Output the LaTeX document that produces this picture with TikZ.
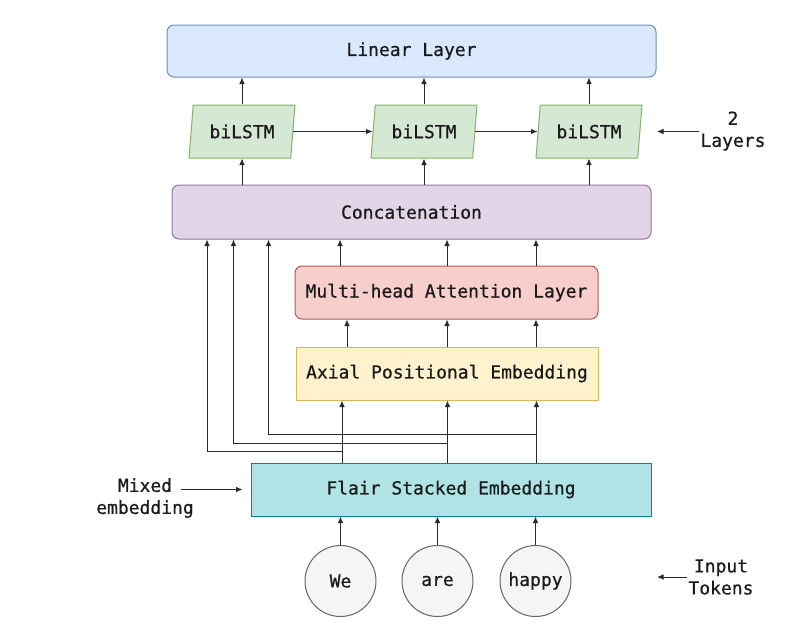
\documentclass[tikz,border=0pt]{standalone}
\usepackage{fontspec}
\newfontfamily\dmono[BoldFont=DejaVu Sans Mono, BoldFeatures={FakeBold=0.6}]{DejaVu Sans Mono}
\usetikzlibrary{shapes.geometric,arrows.meta}
\definecolor{blf}{HTML}{DAE8FC}\definecolor{bld}{HTML}{6C8EBF}
\definecolor{grf}{HTML}{D5E8D4}\definecolor{grd}{HTML}{82B366}
\definecolor{puf}{HTML}{E1D5E7}\definecolor{pud}{HTML}{9673A6}
\definecolor{ref}{HTML}{F8CECC}\definecolor{red}{HTML}{B85450}
\definecolor{yef}{HTML}{FFF2CC}\definecolor{yed}{HTML}{D6B656}
\definecolor{cyf}{HTML}{B0E3E6}\definecolor{cyd}{HTML}{0E8088}
\definecolor{cif}{HTML}{F5F5F5}\definecolor{cid}{HTML}{666666}
\definecolor{txt}{HTML}{1A1A1A}
\definecolor{ln}{HTML}{2A2A2A}
\begin{document}
\begin{tikzpicture}[x=1pt,y=-1pt,
  every node/.style={font=\fontsize{18}{22}\selectfont\dmono\bfseries, text=txt},
  box/.style={draw, line width=1pt, inner sep=0pt},
  lstm/.style={draw=grd, fill=grf, line width=1pt, trapezium, trapezium left angle=73, trapezium right angle=107, trapezium stretches body=true, minimum width=106pt, minimum height=53pt, inner sep=0pt},
  tok/.style={circle, draw=cid, fill=cif, line width=1pt, minimum size=71pt, inner sep=0pt},
  arr/.style={draw=ln, line width=0.9pt, -{Latex[length=6.5pt,width=5.5pt]}},
  lbl/.style={align=center, inner sep=1pt}
]
\useasboundingbox (0,0) rectangle (801,627);

\node[box, draw=bld, fill=blf, rounded corners=7pt, minimum width=489pt, minimum height=52pt] (lin) at (411.5,51) {Linear Layer};
\node[lstm] (b1) at (242,131.5) {biLSTM};
\node[lstm] (b2) at (424,131.5) {biLSTM};
\node[lstm] (b3) at (589,131.5) {biLSTM};
\node[box, draw=pud, fill=puf, rounded corners=7pt, minimum width=479pt, minimum height=54pt] (con) at (411.5,212) {Concatenation};
\node[box, draw=red, fill=ref, rounded corners=7pt, minimum width=303pt, minimum height=53pt] (mha) at (446.5,292.5) {Multi-head Attention Layer};
\node[box, draw=yed, fill=yef, minimum width=302pt, minimum height=53pt] (ax) at (447,373.5) {Axial Positional Embedding};
\node[box, draw=cyd, fill=cyf, minimum width=400pt, minimum height=53pt] (fl) at (451,489.5) {Flair Stacked Embedding};
\node[tok] (t1) at (340.5,581) {We};
\node[tok] (t2) at (437.5,581) {are};
\node[tok] (t3) at (535.5,581) {happy};

\node[lbl] (lay) at (733,131) {2\\Layers};
\node[lbl] (inp) at (721,577) {Input\\Tokens};
\node[lbl] (mix) at (145,498) {Mixed\\embedding};

% x positions of vertical connectors
\coordinate (xa1) at (342,0); \coordinate (xa2) at (447.5,0); \coordinate (xa3) at (536.5,0);
\coordinate (xm1) at (347,0); \coordinate (xm2) at (447,0); \coordinate (xm3) at (536,0);
\coordinate (xc1) at (340,0); \coordinate (xc2) at (447,0); \coordinate (xc3) at (536,0);
\coordinate (s1) at (207,451); \coordinate (s2) at (233.5,443); \coordinate (s3) at (268.5,434);

% tokens -> flair
\foreach \t in {t1,t2,t3} \draw[arr] (\t.north) -- (\t.north |- fl.south);
% flair -> axial
\foreach \x in {xa1,xa2,xa3} \draw[arr] (fl.north -| \x) -- (ax.south -| \x);
% axial -> mha
\foreach \x in {xm1,xm2,xm3} \draw[arr] (ax.north -| \x) -- (mha.south -| \x);
% mha -> concat
\foreach \x in {xc1,xc2,xc3} \draw[arr] (mha.north -| \x) -- (con.south -| \x);
% skip connections
\draw[arr] (fl.north -| xa1) |- (s1) -- (s1 |- con.south);
\draw[arr] (fl.north -| xa2) |- (s2) -- (s2 |- con.south);
\draw[arr] (fl.north -| xa3) |- (s3) -- (s3 |- con.south);
% concat -> lstm -> linear
\foreach \b in {b1,b2,b3} {
  \draw[arr] (con.north -| \b.center) -- (\b.south -| \b.center);
  \draw[arr] (\b.north -| \b.center) -- (lin.south -| \b.center);
}
\draw[arr] (b1.east) -- (b2.west);
\draw[arr] (b2.east) -- (b3.west);

% side labels
\coordinate (le) at (657,131.5);
\coordinate (ie) at (657,577);
\coordinate (ms) at (181,0);
\draw[arr] (lay.west |- le) -- (le);
\draw[arr] (inp.west |- ie) -- (ie);
\draw[arr] (ms |- fl.west) -- ([xshift=-8pt]fl.west);
\end{tikzpicture}
\end{document}
